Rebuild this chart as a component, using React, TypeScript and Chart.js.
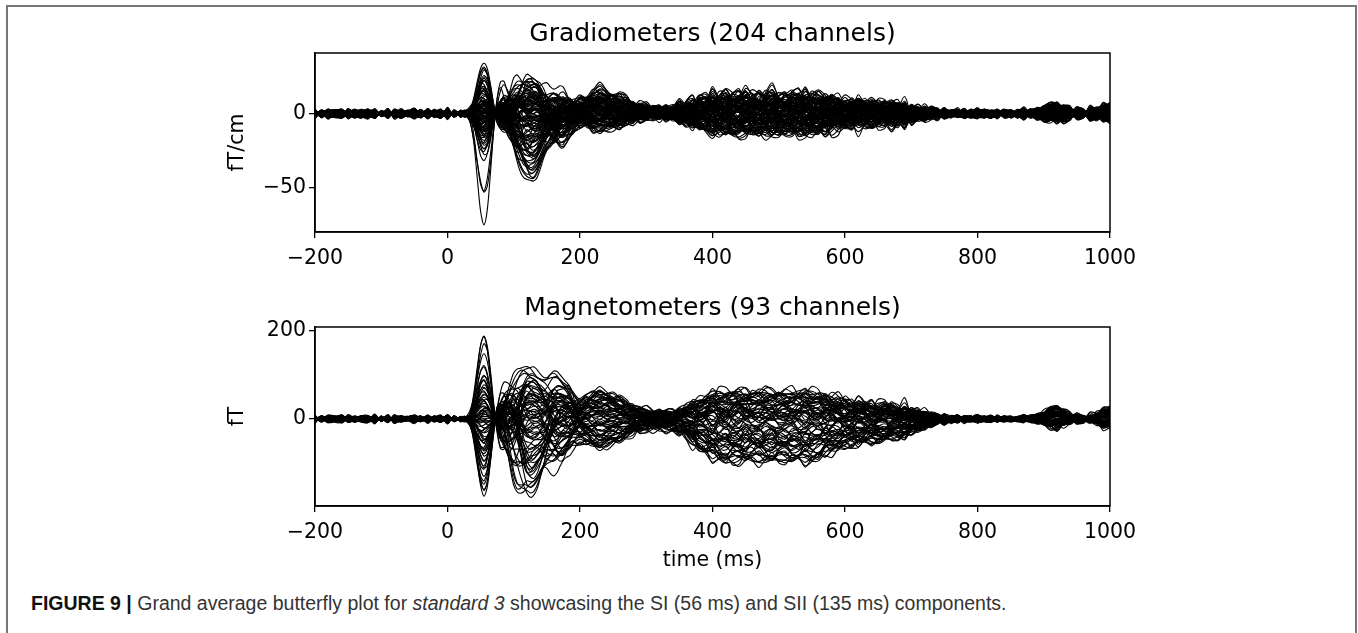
import React, { useEffect, useRef } from "react";
import { Chart, registerables } from "chart.js";
Chart.register(...registerables);

// ---------- sample times (ms) ----------
const TIME_PRE = [-200, -190, -180, -170, -160, -150, -140, -130, -120, -110, -100, -90, -80, -70, -60, -50, -40, -30, -20, -10, 0, 10, 20];
const TIME_EARLY = [25, 30, 35, 40, 45, 50, 55, 60, 65, 70, 75, 80, 85, 90, 95, 100, 105, 110, 115, 120, 125, 130, 135, 140, 145, 150, 155, 160, 165, 170, 175, 180, 185, 190, 195, 200];
const TIME_LATE = [210, 220, 230, 240, 250, 260, 270, 280, 290, 300, 310, 320, 330, 340, 350, 360, 370, 380, 390, 400, 410, 420, 430, 440, 450, 460, 470, 480, 490, 500, 510, 520, 530, 540, 550, 560, 570, 580, 590, 600, 610, 620, 630, 640, 650, 660, 670, 680, 690, 700, 710, 720, 730, 740, 750, 760, 770, 780, 790, 800, 810, 820, 830, 840, 850, 860, 870, 880, 890, 900, 910, 920, 930, 940, 950, 960, 970, 980, 990, 1000];
const TIME = [...TIME_PRE, ...TIME_EARLY, ...TIME_LATE];

// ---------- response components (normalised shapes) ----------
const SI_START = 25;
const SI_SHAPE = [0, 0.02, 0.1, 0.3, 0.6, 0.88, 1, 0.88, 0.55, 0.15, -0.15, -0.3, -0.28, -0.15, -0.05, 0];
const P100_START = 75;
const P100_SHAPE = [0, 0.2, 0.5, 0.8, 0.97, 1, 0.85, 0.6, 0.35, 0.15, 0.05, 0];
const SII_START = 80;
const SII_SHAPE = [0, 0.05, 0.15, 0.3, 0.48, 0.65, 0.8, 0.92, 0.99, 1, 0.97, 0.9, 0.8, 0.68, 0.56, 0.45, 0.35, 0.26, 0.18, 0.12, 0.07, 0.03, 0];
const P170_START = 135;
const P170_SHAPE = [0, 0.1, 0.25, 0.45, 0.65, 0.82, 0.95, 1, 0.97, 0.88, 0.75, 0.6, 0.45, 0.32, 0.15, 0.05, 0];
const P230_START = 180;
const P230_SHAPE = [0, 0.1, 0.22, 0.38, 0.52, 0.75, 0.92, 1, 0.97, 0.88, 0.76, 0.63, 0.5, 0.38, 0.28, 0.2, 0.13, 0.08, 0.04, 0];
const LATE_START = 280;
const LATE_SHAPE = [0, 0.05, 0.1, 0.15, 0.19, 0.22, 0.25, 0.32, 0.42, 0.56, 0.7, 0.82, 0.9, 0.95, 0.98, 1, 1, 0.98, 0.97, 0.98, 1, 1, 0.98, 0.96, 0.97, 0.99, 1, 0.97, 0.92, 0.85, 0.77, 0.7, 0.65, 0.62, 0.6, 0.57, 0.55, 0.52, 0.5, 0.47, 0.44, 0.4, 0.34, 0.27, 0.2, 0.14, 0.09, 0.06, 0.04, 0.02, 0.01, 0];
const TAIL_START = 870;
const TAIL_SHAPE = [0, 0.1, 0.3, 0.6, 0.9, 1, 0.7, 0.35, 0.15, 0.1, 0.2, 0.45, 0.75, 0.9];

// ---------- background wiggles (tenths), one value per sample time ----------
const NOISE1 = [
  4, -3, 5, 1, -5, 2, 6, -2, -6, 3, -1, 5, -4, 0, 6, -3, -5, 4, 1, -4, 5, -2, 3,
  -2, 1, 4, 2, -3, -5, -1, 3, 5, 1, -4, -3, 2, 5, 3, -2, -5, -2, 3, 4, 0, -4, -3, 2, 5, 2, -3, -5, -1, 4, 5, 0, -4, -2, 3, 4,
  -4, 3, 6, -2, -5, 4, 2, -6, 1, 5, -3, -4, 6, 0,
  -8, 5, 9, -6, -3, 10, -4, -9, 7, 2, -10, 6, 8, -5, -7, 9, 1, -10, 4, 8, -8, -2, 10, -6, -5, 9, 3, -9, 6, 7, -10, 0, 9, -4, -8,
  5, 4, -6, 1, 6, -4, -3, 6, -2, -5, 4, 3, -6, 0, 5, -3, -4, 6, 2, -5, -1, 6, -4, 3, 5, -6, 1, 4, -5, 2, 6,
];
const NOISE2 = [
  -2, 5, -4, 3, 6, -5, 0, 4, -3, -6, 2, 5, -1, -5, 3, 6, -2, -4, 5, 1, -6, 3, -1,
  3, 5, 1, -4, -5, 0, 4, 3, -2, -5, -2, 3, 5, 1, -3, -5, -1, 4, 3, -2, -4, 1, 5, 3, -3, -5, 0, 4, 2, -3, -4, 1, 5, 2, -2, -5,
  5, -2, -6, 3, 4, -5, 0, 6, -4, -2, 5, 3, -6, 2,
  9, -4, -8, 7, 3, -10, 5, 8, -6, -7, 9, 2, -9, 4, 10, -3, -8, 6, 7, -9, -1, 10, -5, -6, 8, 4, -10, 3, 9, -7, -4, 10, -2, -9, 6,
  -5, 3, 6, -4, -2, 6, -5, 1, 5, -3, -6, 4, 2, -5, 6, -1, -4, 5, 3, -6, 0, 5, -4, -3, 6, -2, -5, 4, 3, -6, 1,
];
const NOISE3 = [
  5, 1, -5, -2, 4, -4, 3, 6, -1, -5, 5, -2, 4, -6, 1, 3, -4, 6, -3, -1, 4, -5, 2,
  1, -3, -5, -1, 4, 5, 1, -4, -4, 1, 5, 3, -2, -5, -2, 3, 5, 2, -4, -5, 0, 4, 4, -1, -5, -3, 2, 5, 2, -3, -4, 1, 4, 3, -2, -4,
  -3, -6, 2, 5, -1, -5, 6, 3, -4, -5, 2, 6, -2, -5,
  6, 9, -5, -8, 4, 10, -2, -9, -4, 8, 7, -6, -9, 3, 10, -1, -8, -6, 9, 5, -7, -9, 2, 10, 1, -10, -3, 8, 6, -8, -7, 5, 9, -3, -10,
  4, -6, -2, 5, 4, -5, -3, 6, 1, -6, 3, 5, -4, -3, 6, 2, -5, -4, 5, 3, -6, 1, 4, -5, -2, 6, 3, -5, -4, 5, 2,
];
const NOISE4 = [
  -4, 3, 2, -6, 1, 5, -3, -1, 6, -4, 2, -5, 6, 3, -2, -5, 4, -1, -3, 6, -2, 1, -4,
  -4, -1, 3, 5, 2, -3, -4, 0, 4, 3, -2, -5, -1, 4, 4, -1, -4, -3, 2, 5, 1, -3, -5, 0, 3, 4, -1, -4, -2, 3, 5, 1, -3, -4, 0, 4,
  2, 5, -4, -3, 6, 1, -5, -2, 6, -3, -4, 5, 1, -6,
  -5, 2, 10, -7, -6, 8, 5, -10, -1, 9, -3, -8, 7, 6, -9, -4, 10, -2, -9, 8, 3, -7, -8, 6, 9, -4, -6, 10, -1, -9, 4, 7, -8, -5, 9,
  -3, -5, 4, 6, -3, -4, 5, 2, -6, 3, 4, -5, -2, 6, -1, -5, 4, 3, -6, 2, 5, -3, -5, 6, 1, -4, -3, 6, -2, -5, 4,
];

// ---------- gradiometer channel weights (fT/cm) ----------
const G_SI = [-74, -55, -52, -31, -28, -26, -24, -21, -19, -17, -15, -13, -11, -9, -7, -5, -4, -3, -2, -1, 0, 1, 2, 3, 4, 5, 6, 8, 10, 12, 14, 16, 18, 20, 22, 24, 26, 28, 30, 32, 35, -1, 2, -3, 7, -6, 11, -10,
  -8, 4, -14, 9, -2, 13, -20, 6, -5, 17, -12, 3, 21, -9, 1, -16, 8, -4, 25, -23, 5, -1, 15, -7,
  -4, 6, -9, 3, -1, 10, -6, 2, -12, 5, 0, 8, -3, 13, -7, 1, 4, -10, 7, -2, 15, -5, 3, -8, 9, -1, 19, -14, 2, -4, 6, -18];
const G_P100 = [3, -8, 6, 0, -12, 9, -4, 2, 14, -6, 1, -10, 5, 8, -3, -15, 7, 0, -5, 11, -2, 4, -9, 12, -1, 6, -13, 3, 10, -7, 0, 5, -11, 2, 8, -4, 1, -6, 13, -2, 7, -9, 4, -14, 0, 9, -3, 5,
  6, -4, 11, -8, 2, -12, 9, 0, -6, 4, 13, -3, -10, 7, -1, 5, -14, 10, -2, 8, -7, 3, 12, -5,
  -3, 5, 2, -7, 9, -1, 4, -10, 6, 0, -5, 8, -2, 3, -8, 11, -4, 1, 7, -6, 2, -9, 5, 0, -3, 10, -7, 4, -1, 6, -11, 3];
const G_SII = [5, -12, 8, -44, 3, -40, 14, -20, -42, 10, -28, 18, -6, -38, 22, -15, 2, -33, 12, -3, -46, 7, -25, 20, -10, -36, 16, -1, -18, 26, -30, 4, -8, 11, -22, 24, -4, -14, 9, -41, 0, 13, -26, 6, -17, 19, -35, -7,
  -9, 15, -24, 6, -32, 11, -2, 21, -14, 3, -28, 17, -5, 8, -19, 1, 23, -11, -37, 9, -6, 14, -21, 4,
  3, -7, 10, -16, 1, -4, 12, -21, 6, -10, -2, 8, -27, 4, -13, 15, -1, -8, 18, -5, 2, -17, 9, -3, -23, 7, -11, 13, 0, -6, 20, -29];
const G_P170 = [-3, 6, -10, 2, -22, 4, -6, 10, -1, -14, 3, -24, 7, 0, -8, 12, -4, 5, -18, 1, -2, 8, -12, -5, 14, -7, 2, -20, 4, -9, 6, -3, -16, 9, -1, -11, 3, -6, 11, -4, -13, 0, 5, -19, 2, -8, 7, -2,
  5, -9, 2, -15, 8, -4, 11, -7, 1, -21, 6, -2, 9, -12, 3, -6, 13, -17, 0, 7, -10, 4, -3, 10,
  4, -2, 7, -11, 1, 6, -5, 9, -14, 3, -8, 0, 12, -3, 5, -16, 2, -6, 8, -1, 10, -9, 4, -4, 6, -13, 1, 7, -7, 3, -10, 5];
const G_P230 = [4, -6, 12, 1, -3, 8, -10, 15, 0, 6, -8, 3, 17, -2, 9, -12, 5, 2, -5, 11, 7, -1, 14, -7, 3, 10, -4, 6, -9, 1, 13, -3, 8, 0, -11, 5, 16, -6, 2, 9, -2, 4, -8, 12, 1, -4, 7, 3,
  -5, 10, 2, -9, 14, -1, 6, -7, 11, 3, -4, 9, -11, 5, 15, -3, 1, 8, -6, 12, -2, 4, -10, 7,
  2, -4, 7, 10, -3, 5, -8, 1, 12, -6, 3, 8, -2, -10, 6, 0, 11, -5, 4, 9, -7, 2, 13, -1, -4, 7, -9, 5, 1, 14, -3, 6];
const G_LATE = [6, -9, 2, 12, -4, -13, 8, 0, -7, 10, 3, -11, 5, -2, 13, -6, 9, -14, 1, 7, -10, 4, -3, 11, -8, 6, -1, -12, 9, 2, -5, 12, -9, 0, 7, -13, 3, 10, -6, 5, -11, 8, -4, 1, 11, -7, 4, -2,
  -3, 9, -12, 5, 0, -8, 12, 3, -10, 7, -5, 10, -1, -14, 6, 2, -7, 11, -4, 8, -9, 1, 13, -6,
  4, -5, 7, -8, 1, 10, -3, -6, 8, 2, -11, 5, -1, 9, -7, 3, -4, 11, 0, -9, 6, -2, 12, -5, 2, 8, -10, 4, -3, 7, -12, 1];
const G_TAIL = [2, -3, 5, 0, -4, 7, 1, -2, 4, -5, 3, 6, -1, 2, -3, 5, 0, -4, 6, 1, -2, 3, -5, 4, 0, 7, -3, 2, -1, 5, -4, 1, 3, -2, 6, 0, -3, 4, 2, -5, 1, 5, -2, 3, -1, 6, 0, -4,
  -1, 4, -3, 6, 1, -5, 3, 0, -2, 5, -4, 2, 7, -3, 1, -1, 4, -6, 2, 5, -2, 0, 3, -4,
  1, -2, 3, 0, -3, 4, 2, -1, 5, -4, 0, 3, -2, 6, 1, -3, 2, 4, -1, -5, 3, 0, -2, 5, 1, -4, 2, 6, -3, 0, 4, -1];
const G_N1 = [1.5, -2, 0.5, 2.5, -1, 1, -2.5, 0, 2, -1.5, 1, -0.5, 2, -2, 0.5, 1.5, -1, 2.5, -0.5, 0, 1, -2, 1.5, -1.5, 2, 0.5, -2.5, 1, -1, 0, 2, -0.5, 1.5, -2, 0.5, -1, 2.5, 0, -1.5, 1, -2, 0.5, 1.5, -0.5, 2, -1, 0, 1,
  2, -1, 0.5, -2, 1.5, 0, -2.5, 1, -0.5, 2, -1, 1.5, 0, -1.5, 2.5, -0.5, 1, -2, 0.5, 1.5, -1, 2, -2.5, 0,
  -1, 2, 0.5, -2.5, 1, -0.5, 2, -1.5, 0, 1.5, -2, 1, 2.5, -1, 0.5, -2, 1.5, 0, -1.5, 2, -0.5, 1, -2.5, 0.5, 2, -1, 0, 1.5, -2, 1, -0.5, 2.5];
const G_N2 = [-1, 1.5, 2, -0.5, -2, 0.5, 1, -1.5, 2.5, 0, -1, 2, -2.5, 1, 0.5, -1.5, 2, 0, -1, 1.5, -2, 0.5, 1, -2.5, 0, 1.5, -0.5, 2, -1, 1, -1.5, 2.5, 0, -2, 1, 0.5, -1, 1.5, 2, -0.5, 0, -2, 1, 2.5, -1.5, 0.5, -1, 1.5,
  0.5, 2, -1.5, 1, -0.5, -2, 1.5, 2.5, -1, 0, 1, -2.5, 2, 0.5, -1, 1.5, -2, 0, 2, -0.5, 1, -1.5, 0.5, 2.5,
  2, 0, -1.5, 1, 2.5, -2, 0.5, 1, -1, -2.5, 1.5, 0, -0.5, 2, -1.5, 1, 0.5, -2, 2, -1, 0, 1.5, -0.5, -2, 1, 2.5, -1.5, 0.5, 0, -1, 2, -2];
const G_N3 = [0.5, 1, -1.5, 1, 2, -2, 0, 1.5, -1, 2, -2.5, 0.5, 1, -0.5, -2, 1, 0.5, -1, 2, -1.5, 0, 1.5, -2, 1, -0.5, -1, 2, 0, 1.5, -2, 0.5, 1, -1, 2.5, -1.5, 0, 1, -2, 0.5, 1.5, -1, 2, -0.5, -1.5, 1, 0, 2, -2,
  -2, 0.5, 1.5, -1, 2, 1, -0.5, -2, 0, 2.5, -1.5, 0.5, 1, -2, -1, 2, 0.5, 1.5, -2.5, 1, 0, -1, 2, -0.5,
  -1.5, 1, 2, 0, -2, 1.5, -1, 2.5, 0.5, -0.5, -2, 1, 0, 2, -2.5, 0.5, 1.5, -1, -0.5, 2, 1, -2, 0.5, 1.5, -1.5, 0, 2, -1, 1, -2.5, 0.5, 1];
const G_N4 = [1, -1.5, 2, 0.5, -2, -1, 1.5, -0.5, 2.5, -2, 0, 1, -1, 2, -1.5, 0.5, 1, -2.5, 1.5, -1, 0.5, 2, -0.5, -2, 1, 0, -1.5, 2, -1, 1.5, 0.5, -2, 2.5, -0.5, 0, 1, -1, -2, 1.5, 0.5, 2, -1.5, 0, -1, 2.5, -2, 1, 0.5,
  -0.5, 1.5, -2, 1, 0, -2.5, 2, -1, 0.5, 1.5, -1.5, 2, -0.5, 1, -2, 0, 1.5, -1, 2, 0.5, -1.5, 1, -2, 0.5,
  0.5, -2, 1, 1.5, -1, 2, -0.5, 0, -2.5, 1, 2, -1.5, 0.5, -1, 1.5, 2, -2, 0, 1, -0.5, -1.5, 2.5, 0, -1, 2, -2, 0.5, 1, -1.5, 1.5, 0, -2];

// ---------- magnetometer channel weights (fT) ----------
const M_SI = [191, 182, 172, 150, 118, 104, 95, 86, 78, 70, 62, 54, 46, 38, 30, 22, 14, 8, 2, -4, -10, -18, -26, -34, -42, -50, -58, -66, -74, -82, -92, -104, -116, -128, -140, -152, -160, -166, -173, 120,
  35, -15, 65, -45, 10, -70, 88, -30, 50, -95, 18, -5, 75, -55, 25, -38,
  -20, 42, -62, 5, 28, -85, 58, -8, 16, -48, 82, -25, 0, 36, -110, 12];
const M_P100 = [-20, 30, -60, 10, 85, -40, 5, 60, -90, 20, -10, 45, -70, 0, 75, -30, 15, -100, 50, -50, 35, -15, 65, -80, 25, -5, 80, -45, 10, 55, -25, 40, -65, 5, -35, 70, -55, 15, -85, 30,
  45, -25, -60, 20, 70, -10, -40, 35, -75, 5, 55, -30, 15, -50, 60, -5,
  25, -45, 10, 65, -20, 40, -70, 0, -35, 50, -15, 30, -55, 75, -5, 20];
const M_SII = [40, -120, 90, -30, -160, 15, 119, -70, 60, -177, -10, 100, -140, 30, -50, 80, -90, 5, 110, -150, 50, -20, -110, 70, -60, 20, -130, 95, -40, 0, -100, 65, -80, 35, -165, 10, 85, -25, -145, 45,
  -45, 75, -85, 25, -120, 55, -15, 95, -65, 5, -135, 40, -35, 105, -90, 15,
  30, -55, 70, -95, 10, -25, 60, -75, 45, -10, 85, -40, 20, -115, 55, -5];
const M_P170 = [-50, 96, 20, -80, 40, -15, 70, -60, 0, 55, -35, 85, -88, 10, -45, 30, 65, -70, 25, -20, 50, -5, -65, 80, -30, 15, 45, -55, 5, 60, -40, 35, -75, 20, -10, 75, -25, 40, -50, 10,
  60, -30, 15, -65, 45, -20, 80, -45, 5, -80, 30, 50, -15, 70, -60, 25,
  -20, 35, -50, 10, 55, -70, 25, -5, 65, -35, 0, 45, -85, 30, -15, 50];
const M_P230 = [30, -55, 62, -20, 10, -66, 45, -35, 55, -5, -45, 20, -60, 40, 0, -25, 50, -50, 15, 35, -10, -40, 60, -65, 25, -30, 5, 48, -58, 18, -15, 38, -48, 8, 52, -22, -62, 28, -8, 42,
  -40, 58, -18, 25, -52, 12, 45, -30, 65, -60, 3, 35, -12, -45, 20, 55,
  15, -35, 50, -8, 30, -55, 22, 40, -25, 5, -50, 60, -15, 32, -40, 10];
const M_LATE = [55, -95, 20, -40, 62, -72, 5, 40, -88, -20, 48, -55, 30, -10, -82, 58, -35, 12, -62, 35, -48, 0, 52, -92, 25, -28, 44, -65, 15, -5, -84, 60, -42, 8, -58, 38, -15, -75, 28, -50,
  -25, 45, -70, 18, -98, 32, -8, 65, -45, 10, -60, 50, -30, 3, -86, 22,
  12, -35, 50, -60, 5, 30, -78, 42, -15, 20, -52, 35, -94, 8, -40, 55];
const M_TAIL = [12, -8, 25, 3, -15, 18, -5, 28, 0, -20, 8, 15, -12, 22, -3, 5, -18, 10, 20, -10, 2, 26, -6, 14, -22, 7, 17, -14, 24, -2, 9, -16, 19, 4, -9, 13, -19, 21, 6, -12,
  -6, 15, -10, 23, 1, -17, 11, -4, 27, -13, 6, 19, -8, 14, -20, 3,
  5, -10, 16, -3, 21, -14, 8, 0, -7, 12, 25, -18, 3, 10, -5, 18];
const M_N1 = [5, -7, 2, 6, -3, 4, -6, 0, 7, -4, 3, -2, 6, -5, 1, 4, -7, 5, -1, 2, -6, 3, 7, -3, 0, 5, -4, 6, -2, -5, 4, 1, -6, 3, 7, -1, -4, 2, 5, -3,
  -4, 6, 1, -7, 3, 5, -2, -6, 4, 0, 7, -3, 2, -5, 6, -1,
  3, -5, 7, -1, 4, -6, 2, 5, -3, 6, -7, 1, 0, -4, 6, 2];
const M_N2 = [-3, 4, 6, -5, 1, -7, 3, 5, -2, 6, -4, 7, 0, 2, -6, 5, 3, -1, -5, 7, 1, -4, 2, 6, -7, 0, 4, -3, 5, 3, -6, 2, 0, -5, 4, 6, -2, 7, -4, 1,
  5, -2, -6, 3, 7, -4, 1, 6, -5, 2, -3, 4, -7, 0, 5, -6,
  -6, 1, 4, 7, -3, 2, -5, 0, 6, -4, 3, 5, -2, 7, -1, -6];
const M_N3 = [6, 2, -4, 3, 7, -1, -5, 4, 1, -6, 5, 0, -3, 7, 4, -2, 1, 6, -4, -3, 5, 7, -6, 1, 3, -5, 2, 0, 6, -7, 3, -4, 5, 1, -2, -6, 4, 0, 7, 2,
  -2, -5, 4, 6, -3, 1, 7, -4, -1, 5, -6, 2, 3, -7, 0, 4,
  4, 6, -2, -5, 1, 7, -3, 5, -6, 2, 0, -4, 6, 3, -7, 1];
const M_N4 = [3, -5, 6, -2, 4, 7, -6, 1, -3, 5, -7, 2, 6, -4, 0, 3, -6, 5, -1, 7, -3, 4, -5, 2, 6, -7, 1, -2, 5, -4, 3, 7, -6, 0, 4, -3, 6, -5, 2, -1,
  5, -7, 3, 6, -2, -4, 1, 7, -5, 2, -6, 4, 0, -3, 5, -1,
  -5, 2, 6, -3, -7, 4, 1, -2, 5, 7, -6, 3, 0, -1, 4, -5];

// scale of the wiggle tables for each sensor type
const GRAD_NOISE_UNIT = 0.13;
const MAG_NOISE_UNIT = 0.12;

// ---------- axes ----------
const X_MIN = -200;
const X_MAX = 1000;
const X_STEP = 200;
const GRAD_Y_MIN = -80;
const GRAD_Y_MAX = 41;
const GRAD_Y_TICKS = [-50, 0];
const MAG_Y_MIN = -198;
const MAG_Y_MAX = 209;
const MAG_Y_TICKS = [0, 200];

const GRAD_TITLE = "Gradiometers (204 channels)";
const MAG_TITLE = "Magnetometers (93 channels)";
const GRAD_UNIT = "fT/cm";
const MAG_UNIT = "fT";
const X_LABEL = "time (ms)";

// place a component shape on the TIME grid (zero outside its window)
function placed(start: number, shape: number[]): number[] {
  const i0 = TIME.indexOf(start);
  return TIME.map((_, i) => (i >= i0 && i - i0 < shape.length ? shape[i - i0] : 0));
}
const COMPONENTS = [
  placed(SI_START, SI_SHAPE),
  placed(P100_START, P100_SHAPE),
  placed(SII_START, SII_SHAPE),
  placed(P170_START, P170_SHAPE),
  placed(P230_START, P230_SHAPE),
  placed(LATE_START, LATE_SHAPE),
  placed(TAIL_START, TAIL_SHAPE),
];
const NOISES = [NOISE1, NOISE2, NOISE3, NOISE4];

function traces(weights: number[][], noiseW: number[][], unit: number) {
  const n = weights[0].length;
  const out: { x: number; y: number }[][] = [];
  for (let ch = 0; ch < n; ch++) {
    out.push(
      TIME.map((t, i) => {
        let v = 0;
        weights.forEach((w, c) => (v += (w[ch] ?? 0) * COMPONENTS[c][i]));
        noiseW.forEach((w, k) => (v += (w[ch] ?? 0) * (NOISES[k][i] ?? 0) * unit));
        return { x: t, y: v };
      })
    );
  }
  return out;
}

const fmt = (v: number | string) => {
  const n = Number(v);
  return n < 0 ? "\u2212" + Math.abs(n) : String(n);
};

const FONT = "'DejaVu Sans', sans-serif";
const TICK_SIZE = 20.5;
const TITLE_SIZE = 25;

// axes box + title centred over the plotting area (matplotlib style)
function framePlugin(title: string) {
  return {
    id: "frame",
    afterDraw(chart: any) {
      const { ctx, chartArea: a } = chart;
      ctx.save();
      ctx.strokeStyle = "#000";
      ctx.lineWidth = 1.5;
      ctx.strokeRect(a.left, a.top, a.right - a.left, a.bottom - a.top);
      ctx.fillStyle = "#000";
      ctx.font = `${TITLE_SIZE}px ${FONT}`;
      ctx.textAlign = "center";
      ctx.textBaseline = "middle";
      ctx.fillText(title, (a.left + a.right) / 2, a.top - 19);
      ctx.restore();
    },
  };
}

function makeConfig(
  title: string,
  data: { x: number; y: number }[][],
  yMin: number,
  yMax: number,
  yTicks: number[],
  yLabel: string,
  xHeight: number,
  xLabel: string | null
): any {
  return {
    type: "line",
    data: {
      datasets: data.map((d) => ({
        data: d,
        borderColor: "#000",
        borderWidth: 1.1,
        pointRadius: 0,
        tension: 0.3,
        fill: false,
      })),
    },
    options: {
      animation: false,
      responsive: false,
      devicePixelRatio: 1,
      events: [],
      parsing: false,
      layout: { padding: { left: 222, right: 248, top: 53, bottom: 0 } },
      plugins: {
        legend: { display: false },
        tooltip: { enabled: false },
        title: { display: false },
      },
      scales: {
        x: {
          type: "linear",
          min: X_MIN,
          max: X_MAX,
          afterFit: (s: any) => {
            s.height = xHeight;
          },
          ticks: {
            stepSize: X_STEP,
            color: "#000",
            font: { family: FONT, size: TICK_SIZE },
            padding: 8,
            maxRotation: 0,
            autoSkip: false,
            callback: fmt,
          },
          grid: { drawOnChartArea: false, drawTicks: true, tickLength: 6, color: "#000", lineWidth: 1.3 },
          border: { display: true, color: "#000", width: 1.5 },
          title: xLabel
            ? {
                display: true,
                text: xLabel,
                color: "#000",
                font: { family: FONT, size: TICK_SIZE },
                padding: { top: 0, bottom: 0.7 },
              }
            : { display: false },
        },
        y: {
          type: "linear",
          min: yMin,
          max: yMax,
          afterBuildTicks: (s: any) => {
            s.ticks = yTicks.map((v) => ({ value: v }));
          },
          afterFit: (s: any) => {
            s.width = 93;
          },
          ticks: {
            color: "#000",
            font: { family: FONT, size: TICK_SIZE },
            padding: 3,
            callback: fmt,
          },
          grid: { drawOnChartArea: false, drawTicks: true, tickLength: 6, color: "#000", lineWidth: 1.3 },
          border: { display: true, color: "#000", width: 1.5 },
          title: {
            display: true,
            text: yLabel,
            color: "#000",
            font: { family: FONT, size: TICK_SIZE },
            padding: { top: 3, bottom: 0 },
          },
        },
      },
    },
    plugins: [framePlugin(title)],
  };
}

export default function App() {
  const gradRef = useRef<HTMLCanvasElement>(null);
  const magRef = useRef<HTMLCanvasElement>(null);

  useEffect(() => {
    const gradData = traces(
      [G_SI, G_P100, G_SII, G_P170, G_P230, G_LATE, G_TAIL],
      [G_N1, G_N2, G_N3, G_N4],
      GRAD_NOISE_UNIT
    );
    const magData = traces(
      [M_SI, M_P100, M_SII, M_P170, M_P230, M_LATE, M_TAIL],
      [M_N1, M_N2, M_N3, M_N4],
      MAG_NOISE_UNIT
    );
    const c1 = new Chart(
      gradRef.current!,
      makeConfig(GRAD_TITLE, gradData, GRAD_Y_MIN, GRAD_Y_MAX, GRAD_Y_TICKS, GRAD_UNIT, 43, null)
    );
    const c2 = new Chart(
      magRef.current!,
      makeConfig(MAG_TITLE, magData, MAG_Y_MIN, MAG_Y_MAX, MAG_Y_TICKS, MAG_UNIT, 68, X_LABEL)
    );
    return () => {
      c1.destroy();
      c2.destroy();
    };
  }, []);

  return (
    <div
      style={{
        position: "absolute",
        left: 0,
        top: 0,
        width: 1358,
        height: 633,
        overflow: "hidden",
        background: "#fff",
      }}
    >
      <div
        style={{
          position: "absolute",
          left: 6,
          top: 5,
          width: 1347,
          height: 700,
          borderLeft: "2px solid #777",
          borderTop: "2px solid #777",
          borderRight: "2px solid #777",
        }}
      />
      <canvas
        ref={gradRef}
        width={1358}
        height={275}
        style={{ position: "absolute", left: 0, top: 0, width: 1358, height: 275 }}
      />
      <canvas
        ref={magRef}
        width={1358}
        height={300}
        style={{ position: "absolute", left: 0, top: 274, width: 1358, height: 300 }}
      />
      <div
        style={{
          position: "absolute",
          left: 31,
          top: 591,
          fontFamily: "'Liberation Sans', Arial, sans-serif",
          fontSize: 19.5,
          lineHeight: "24px",
          color: "#333",
          whiteSpace: "nowrap",
        }}
      >
        <b style={{ color: "#111" }}>FIGURE 9 |</b> Grand average butterfly plot for <i>standard 3</i> showcasing
        the SI (56 ms) and SII (135 ms) components.
      </div>
    </div>
  );
}
